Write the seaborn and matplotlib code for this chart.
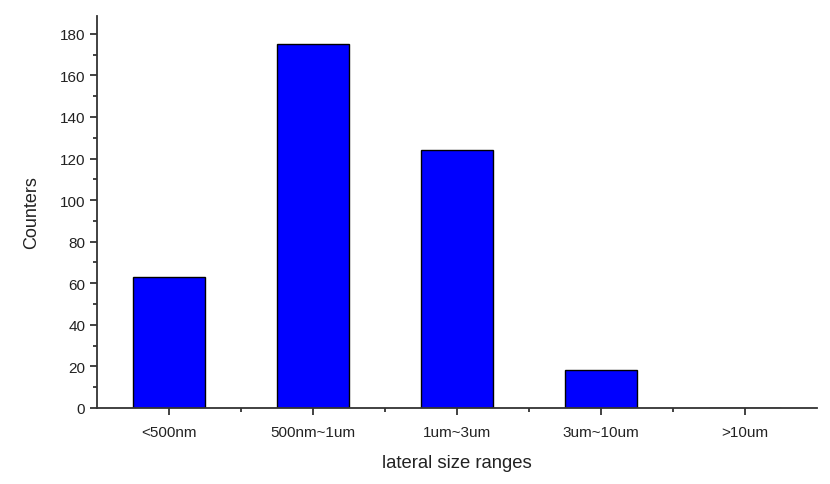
import numpy as np
import pandas as pd
import matplotlib
matplotlib.use("Agg")
import matplotlib.pyplot as plt
from matplotlib.ticker import MultipleLocator, FixedLocator
import seaborn as sns

categories = ["<500nm", "500nm~1um", "1um~3um", "3um~10um", ">10um"]
counts = [63, 175, 124, 18, 0]

sns.set_theme(style="ticks")
plt.rcParams["font.family"] = ["Liberation Sans", "DejaVu Sans"]

df = pd.DataFrame({"range": categories, "count": counts})

fig = plt.figure(figsize=(8.3, 4.85), dpi=100)
ax = fig.add_axes([0.117, 0.157, 0.867, 0.808])

sns.barplot(
    data=df, x="range", y="count", ax=ax,
    color="#0000ff", saturation=1, width=0.5,
    edgecolor="black", linewidth=1.0,
)

ax.set_xlim(-0.5, 4.5)
ax.set_ylim(0, 188.6)
ax.yaxis.set_major_locator(MultipleLocator(20))
ax.yaxis.set_minor_locator(MultipleLocator(10))
ax.xaxis.set_minor_locator(FixedLocator(np.arange(0.5, 4.0, 1.0)))

for side in ["top", "right"]:
    ax.spines[side].set_visible(False)
for side in ["left", "bottom"]:
    ax.spines[side].set_linewidth(1.3)
    ax.spines[side].set_color("#333333")

ax.tick_params(axis="both", which="major", direction="out", length=5, width=1.3,
               color="#333333", labelsize=11, labelcolor="#222222")
ax.tick_params(axis="x", which="major", pad=7)
ax.tick_params(axis="both", which="minor", direction="out", length=3, width=1.3,
               color="#333333")

ax.set_xlabel("lateral size ranges", fontsize=13.3, color="#222222", labelpad=11)
ax.set_ylabel("Counters", fontsize=13, color="#222222", labelpad=14)

fig.savefig("out.png", dpi=100)
